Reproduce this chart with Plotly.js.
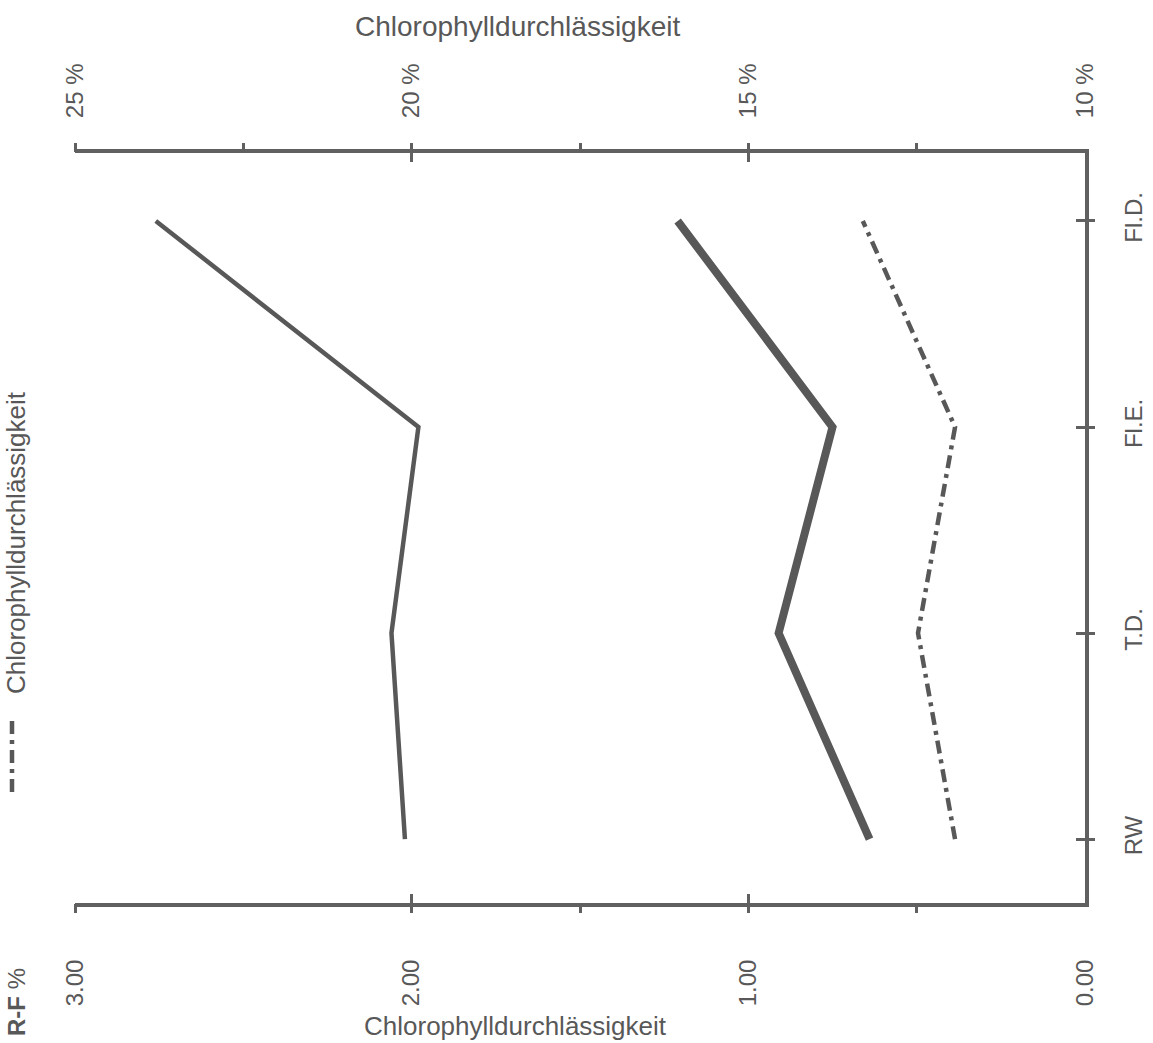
<!DOCTYPE html>
<html>
<head>
<meta charset="utf-8">
<script src="https://cdn.plot.ly/plotly-3.0.1.min.js"></script>
<style>
  html, body { margin: 0; padding: 0; background: #ffffff; }
  #chart { width: 1153px; height: 1043px; }
</style>
</head>
<body>
<div id="chart"></div>
<script>
// ---- data ----
const categories = ['RW', 'T.D.', 'Fl.E.', 'Fl.D.'];
// R-F % (bottom axis)
const rfThin  = [2.02, 2.06, 1.98, 2.76];
const rfThick = [0.64, 0.91, 0.75, 1.21];
// Chlorophylldurchlässigkeit % (top axis)
const chloro  = [11.93, 12.48, 11.93, 13.30];

const rfTickVals   = [3, 2, 1, 0];
const rfTickText   = ['3.00', '2.00', '1.00', '0.00'];
const rfMinorVals  = [1.5, 0.5];
const chTickVals   = [25, 20, 15, 10];
const chTickText   = ['25 %', '20 %', '15 %', '10 %'];
const chMinorVals  = [22.5, 17.5, 12.5];

const catPos = categories.map((c, i) => i);

// ---- styling ----
const ink = '#585858';
const axInk = '#606060';
const fontFam = '"Liberation Sans", Arial, sans-serif';

// layout geometry helpers (pixel -> paper)
const W = 1153, H = 1043;
const M = { l: 75, r: 68, t: 153, b: 140 };
const PW = W - M.l - M.r, PH = H - M.t - M.b;
const px = x => (x - M.l) / PW;
const py = y => (H - M.b - y) / PH;

const rfRange = [3, 0];
const chRange = [25, 10];
const catRange = [-0.31, 3.33];

const traces = [
  { x: rfThin, y: catPos, xaxis: 'x', yaxis: 'y', mode: 'lines', name: 'R-F %',
    line: { color: ink, width: 4.5 }, showlegend: false, hoverinfo: 'skip' },
  { x: rfThick, y: catPos, xaxis: 'x', yaxis: 'y', mode: 'lines', name: 'R-F % (2)',
    line: { color: ink, width: 8 }, showlegend: false, hoverinfo: 'skip' },
  { x: chloro, y: catPos, xaxis: 'x2', yaxis: 'y', mode: 'lines', name: 'Chlorophylldurchlässigkeit',
    line: { color: ink, width: 4.5, dash: '13px,6px,4px,6px' }, showlegend: false, hoverinfo: 'skip' },
  // empty helper traces so the tick-only overlay axes are built
  { x: [], y: [], xaxis: 'x3', yaxis: 'y', showlegend: false, hoverinfo: 'skip' },
  { x: [], y: [], xaxis: 'x4', yaxis: 'y', showlegend: false, hoverinfo: 'skip' },
  { x: [], y: [], xaxis: 'x5', yaxis: 'y', showlegend: false, hoverinfo: 'skip' },
  { x: [], y: [], xaxis: 'x6', yaxis: 'y', showlegend: false, hoverinfo: 'skip' },
  { x: [], y: [], xaxis: 'x', yaxis: 'y2', showlegend: false, hoverinfo: 'skip' },
  { x: [], y: [], xaxis: 'x', yaxis: 'y3', showlegend: false, hoverinfo: 'skip' }
];

const tickOnly = (extra) => Object.assign({
  showticklabels: false, showline: false, showgrid: false, zeroline: false,
  ticklen: 9, tickwidth: 3, tickcolor: axInk, fixedrange: true
}, extra);

const tickFont = { size: 24, color: ink, family: fontFam };

const layout = {
  width: W, height: H,
  margin: M,
  paper_bgcolor: '#ffffff',
  plot_bgcolor: '#ffffff',
  showlegend: false,
  font: { family: fontFam, color: ink, size: 22 },
  xaxis: {
    range: rfRange, side: 'bottom', anchor: 'y',
    tickmode: 'array', tickvals: rfTickVals, ticktext: rfTickText,
    ticks: '', tickangle: -90, ticklabelstandoff: 43,
    tickfont: tickFont,
    showline: true, linewidth: 4, linecolor: axInk,
    showgrid: false, zeroline: false, fixedrange: true
  },
  xaxis3: tickOnly({ overlaying: 'x', side: 'bottom', anchor: 'y', range: rfRange,
    tickmode: 'array', tickvals: rfTickVals.slice(0, 3).concat(rfMinorVals), ticks: 'outside' }),
  xaxis5: tickOnly({ overlaying: 'x', side: 'bottom', anchor: 'y', range: rfRange,
    tickmode: 'array', tickvals: rfTickVals.slice(0, 3), ticks: 'inside' }),
  xaxis2: {
    overlaying: 'x', range: chRange, side: 'top', anchor: 'y',
    tickmode: 'array', tickvals: chTickVals, ticktext: chTickText,
    ticks: '', tickangle: -90, ticklabelstandoff: 26,
    tickfont: tickFont,
    showline: true, linewidth: 4, linecolor: axInk,
    showgrid: false, zeroline: false, fixedrange: true
  },
  xaxis4: tickOnly({ overlaying: 'x', side: 'top', anchor: 'y', range: chRange,
    tickmode: 'array', tickvals: chTickVals.slice(0, 3).concat(chMinorVals), ticks: 'outside' }),
  xaxis6: tickOnly({ overlaying: 'x', side: 'top', anchor: 'y', range: chRange,
    tickmode: 'array', tickvals: chTickVals.slice(0, 3), ticks: 'inside' }),
  yaxis: {
    range: catRange, side: 'right', anchor: 'x',
    tickmode: 'array', tickvals: catPos, ticktext: categories,
    ticks: '', tickangle: -90, ticklabelstandoff: 24,
    tickfont: tickFont,
    showline: true, linewidth: 4, linecolor: axInk,
    showgrid: false, zeroline: false, fixedrange: true
  },
  yaxis2: tickOnly({ overlaying: 'y', side: 'right', anchor: 'x', range: catRange,
    tickmode: 'array', tickvals: catPos, ticks: 'outside' }),
  yaxis3: tickOnly({ overlaying: 'y', side: 'right', anchor: 'x', range: catRange,
    tickmode: 'array', tickvals: catPos, ticks: 'inside' }),
  annotations: [
    { text: 'Chlorophylldurchlässigkeit', xref: 'paper', yref: 'paper',
      x: px(517), y: py(26), xanchor: 'center', yanchor: 'middle', showarrow: false,
      font: { size: 28, color: ink, family: fontFam } },
    { text: 'Chlorophylldurchlässigkeit', xref: 'paper', yref: 'paper',
      x: px(16), y: py(543), xanchor: 'center', yanchor: 'middle', showarrow: false,
      textangle: -90, font: { size: 26, color: ink, family: fontFam } },
    { text: '<b>R-F</b> %', xref: 'paper', yref: 'paper',
      x: px(16), y: py(1002), xanchor: 'center', yanchor: 'middle', showarrow: false,
      textangle: -90, font: { size: 24, color: ink, family: fontFam } },
    { text: 'Chlorophylldurchlässigkeit', xref: 'paper', yref: 'paper',
      x: px(515), y: py(1026), xanchor: 'center', yanchor: 'middle', showarrow: false,
      font: { size: 26, color: ink, family: fontFam } }
  ],
  shapes: [
    { type: 'line', xref: 'paper', yref: 'paper',
      x0: px(12), x1: px(12), y0: py(792), y1: py(716),
      line: { color: ink, width: 4.5, dash: '13px,6px,4px,6px' } }
  ]
};

Plotly.newPlot('chart', traces, layout, { displayModeBar: false, staticPlot: true });
</script>
</body>
</html>
